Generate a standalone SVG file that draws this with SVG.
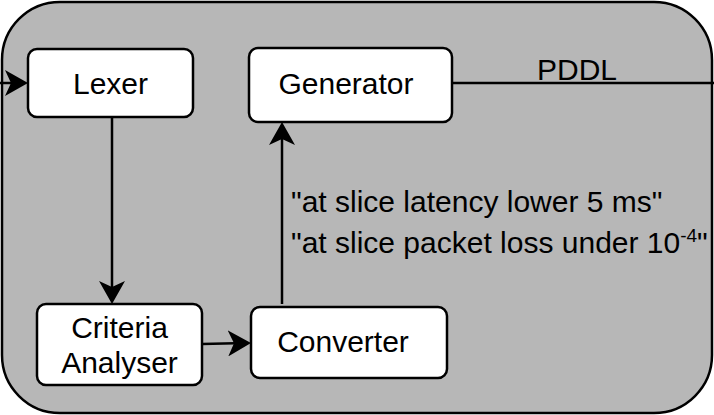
<svg xmlns="http://www.w3.org/2000/svg" width="714" height="415" viewBox="0 0 714 415">
<style>
.box{fill:#ffffff;stroke:#000;stroke-width:2.5}
.t{font-family:"Liberation Sans",Arial,Helvetica,sans-serif;font-size:30px;fill:#000}
.c{text-anchor:middle}
.ln{fill:none;stroke:#000;stroke-width:2.5}
</style>
<defs>
<marker id="ah" markerUnits="userSpaceOnUse" viewBox="0 0 24 26" refX="18" refY="13" markerWidth="24" markerHeight="26" orient="auto">
<path d="M0,0 L23,13 L0,26 L6,13 Z" fill="#000"/>
</marker>
</defs>
<rect x="2" y="2" width="710" height="411" rx="58" ry="58" fill="#b7b7b7" stroke="#000" stroke-width="2.5"/>
<g id="connectors">
<line class="ln" x1="0" y1="83" x2="23" y2="83" marker-end="url(#ah)"/>
<line class="ln" x1="112" y1="117" x2="112" y2="299" marker-end="url(#ah)"/>
<line class="ln" x1="202" y1="344" x2="246" y2="343" marker-end="url(#ah)"/>
<line class="ln" x1="282" y1="304" x2="282" y2="127" marker-end="url(#ah)"/>
<line class="ln" x1="452" y1="83" x2="714" y2="83"/>
<text class="t c" x="577" y="80">PDDL</text>
<text class="t" x="291" y="212">"at slice latency lower 5 ms"</text>
<text class="t" x="291" y="253">"at slice packet loss under 10<tspan font-size="19" dy="-11">-4</tspan><tspan dy="11">"</tspan></text>
</g>
<g id="lexer">
<rect class="box" x="28" y="49" width="165" height="68" rx="9"/>
<text class="t c" x="110.5" y="94">Lexer</text>
</g>
<g id="generator">
<rect class="box" x="249" y="48" width="203" height="74" rx="9"/>
<text class="t c" x="346" y="94">Generator</text>
</g>
<g id="criteria">
<rect class="box" x="37" y="304" width="165" height="81" rx="9"/>
<text class="t c" x="119.5" y="338">Criteria</text>
<text class="t c" x="119.5" y="373">Analyser</text>
</g>
<g id="converter">
<rect class="box" x="251" y="307" width="196" height="71" rx="9"/>
<text class="t c" x="343" y="352">Converter</text>
</g>
</svg>
